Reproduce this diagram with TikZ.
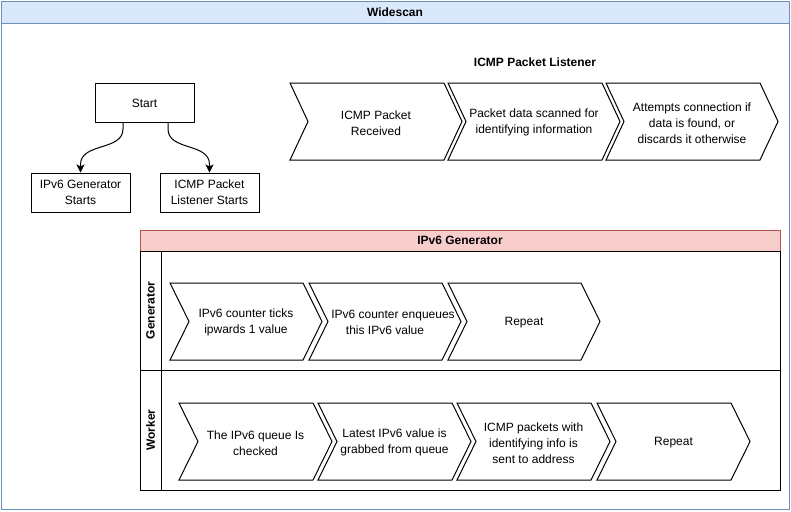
\documentclass[tikz,border=0pt]{standalone}
\usepackage{fontspec}
\setmainfont{Liberation Sans}
\usetikzlibrary{calc,arrows.meta}
\definecolor{blueS}{HTML}{6C8EBF}
\definecolor{blueF}{HTML}{DAE8FC}
\definecolor{redS}{HTML}{B85450}
\definecolor{redF}{HTML}{F8CECC}
\tikzset{
 lw/.style={line width=0.75pt},
 txt/.style={font=\fontsize{9}{12}\selectfont, align=center, inner sep=0pt, yshift=-1pt},
 ttl/.style={font=\fontsize{9}{11}\selectfont\bfseries, align=center, inner sep=0pt},
 box/.style={draw, lw, font=\fontsize{9}{12}\selectfont, align=center, inner sep=0pt, minimum width={99*0.75pt}, minimum height={39*0.75pt}},
 chev/.style={draw, lw, line join=miter},
 arr/.style={lw, -{Stealth[length=6pt,width=6pt,inset=1.5pt]}},
}
\newcommand\chevron[7]{%
 \draw[chev] (#2,#3) -- ++({#4-#6},0) -- ++(#6,{#5/2}) -- ++(-#6,{#5/2}) -- ++({-(#4-#6)},0) -- ++(#6,{-#5/2}) -- cycle;
 \node[txt] (#1) at ({#2+#4/2},{#3+#5/2}) {#7};
}
\begin{document}
\begin{tikzpicture}[x=0.75pt,y=-0.75pt]
\useasboundingbox (0,0) rectangle (791,511);
% outer container
\fill[white] (1,1) rectangle (789,509);
\filldraw[fill=blueF, draw=blueS, lw] (1,1) rectangle (789,23);
\draw[blueS, lw] (1,1) rectangle (789,509);
\node[ttl] (title) at (395,12) {Widescan};
% start nodes
\node[box] (start) at (144.5,103) {Start};
\node[box] (gen) at (80.5,192.5) {IPv6 Generator\\Starts};
\node[box] (lis) at (209.5,192.5) {ICMP Packet\\Listener Starts};
\coordinate (s1) at ($(start.south)+(-21.5,0)$);
\coordinate (s2) at ($(start.south)+(23.5,0)$);
\draw[arr] (s1) -- ++(0,6) .. controls +(0,22) and +(0,-22) .. ($(gen.north)+(0,-8)$) -- (gen.north);
\draw[arr] (s2) -- ++(0,6) .. controls +(0,22) and +(0,-22) .. ($(lis.north)+(0,-8)$) -- (lis.north);
% ICMP listener
\node[ttl] (ltitle) at (535,62) {ICMP Packet Listener};
\chevron{l1}{290}{83}{172}{77}{18}{ICMP Packet\\Received}
\chevron{l2}{448}{83}{172}{77}{18}{Packet data scanned for\\identifying information}
\chevron{l3}{606}{83}{172}{77}{18}{Attempts connection if\\data is found, or\\discards it otherwise}
% IPv6 Generator pool
\fill[white] (140,230) rectangle (780,490);
\filldraw[fill=redF, draw=redS, lw] (140,230) rectangle (780,251);
\draw[lw] (140,251) rectangle (780,490);
\draw[lw] (161,251) -- (161,490);
\draw[lw] (140,370) -- (780,370);
\node[ttl] (ptitle) at (460,240.5) {IPv6 Generator};
\node[ttl, rotate=90] (glane) at (150.5,310.5) {Generator};
\node[ttl, rotate=90] (wlane) at (150.5,430) {Worker};
\chevron{g1}{170}{283}{152}{77}{19}{IPv6 counter ticks\\ipwards 1 value}
\chevron{g2}{309}{283}{152}{77}{19}{\hspace*{12pt}IPv6 counter enqueues\\this IPv6 value}
\chevron{g3}{448}{283}{152}{77}{19}{Repeat}
\chevron{w1}{179}{403}{153}{77}{19}{The IPv6 queue Is\\checked}
\chevron{w2}{318}{403}{153}{77}{19}{Latest IPv6 value is\\grabbed from queue}
\chevron{w3}{457}{403}{153}{77}{19}{ICMP packets with\\identifying info is\\sent to address}
\chevron{w4}{597}{403}{153}{77}{19}{Repeat}
\end{tikzpicture}
\end{document}
